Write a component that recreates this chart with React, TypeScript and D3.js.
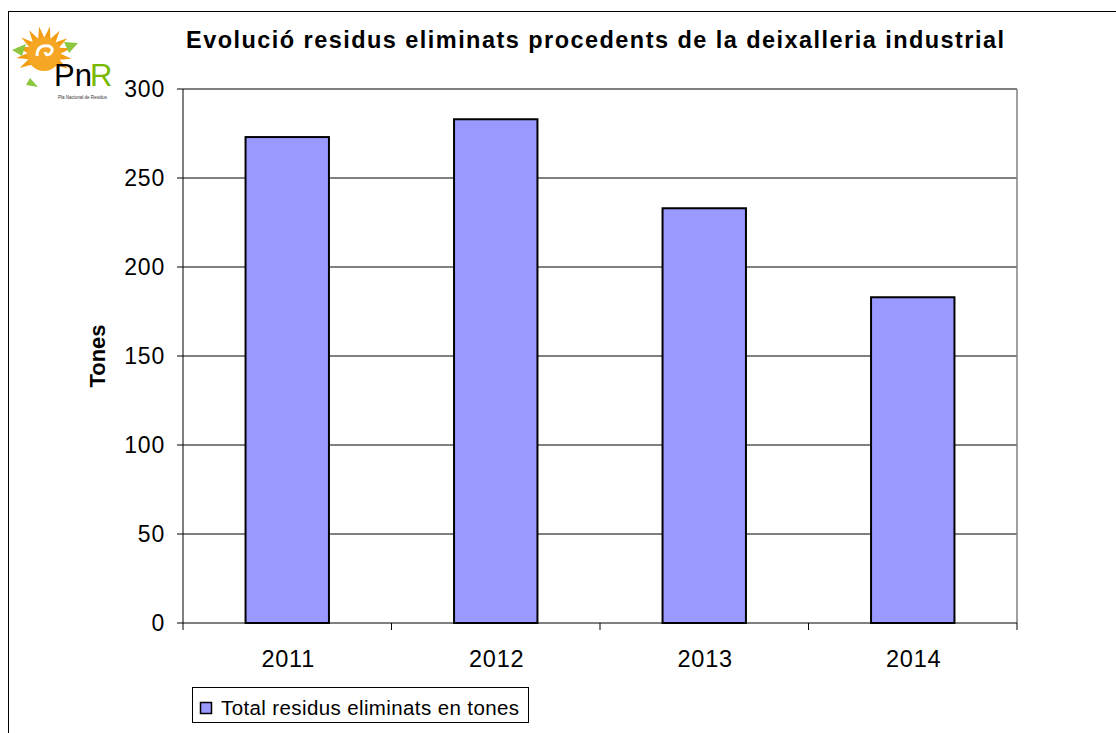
import React from "react";
import * as d3 from "d3";

const categories = ["2011", "2012", "2013", "2014"];
const values = [273, 283, 233, 183];
const yTicks = [0, 50, 100, 150, 200, 250, 300];
const title = "Evolució residus eliminats procedents de la deixalleria industrial";
const yTitle = "Tones";
const legendLabel = "Total residus eliminats en tones";

export default function App() {
  const W = 1116, H = 733;
  const left = 183, right = 1017, top = 89, bottom = 623;
  const x = d3.scaleBand<string>().domain(categories).range([left, right]).paddingInner(0.6).paddingOuter(0.3);
  const xb = d3.scaleBand<string>().domain(categories).range([left, right]);
  const y = d3.scaleLinear().domain([0, 300]).range([bottom, top]);
  const font = "Arial, 'Liberation Sans', sans-serif";

  const cx = 44, cy = 54;
  const rays = d3.range(12).map((i) => {
    const a = (-210 + i * 22) * Math.PI / 180;
    const p = (r: number, da: number) => [cx + r * Math.cos(a + da), cy + r * Math.sin(a + da)];
    const [x1, y1] = p(16, -0.2), [x2, y2] = p(28, 0), [x3, y3] = p(16, 0.2);
    return `M${x1},${y1}L${x2},${y2}L${x3},${y3}Z`;
  });

  return (
    <div style={{ position: "fixed", left: 0, top: 0, width: W, height: H, overflow: "hidden", background: "#fff" }}>
      <svg width={W} height={H} style={{ display: "block" }}>
        <rect x={0} y={0} width={W} height={H} fill="#fff" />
        <rect x={8.5} y={11.5} width={W + 20} height={H + 20} fill="#fff" stroke="#000" strokeWidth={1} />
        {/* logo */}
        <g>
          {rays.map((d, i) => <path key={i} d={d} fill="#f39c12" />)}
          <circle cx={cx} cy={cy} r={17} fill="#f5a623" />
          <path d={`M${cx - 7},${cy + 2} q0,-12 12,-10 q6,3 1,8 q-4,2 -5,-2`} fill="none" stroke="#fff" strokeWidth={3} />
          <path d="M12,50 l14,-6 l-4,12 z" fill="#8dc63f" />
          <path d="M64,42 l14,1 l-9,10 z" fill="#8dc63f" />
          <path d="M30,78 l8,9 l-12,-2 z" fill="#8dc63f" />
          <text x={54} y={86} fontFamily="'Liberation Sans Narrow', Arial, sans-serif" fontSize={31} fill="#000">Pn</text>
          <text x={90} y={86} fontFamily="'Liberation Sans Narrow', Arial, sans-serif" fontSize={31} fill="#7ab800">R</text>
          <text x={58} y={99} fontFamily={font} fontSize={4.5} fill="#333">Pla Nacional de Residus</text>
        </g>
        <text x={186} y={48} textLength={818} lengthAdjust="spacing" fontFamily={font} fontWeight="bold" fontSize={23.5} fill="#000">{title}</text>
        {/* plot area */}
        {yTicks.filter((t) => t > 0).map((t) => (
          <line key={t} x1={left} x2={right} y1={y(t)} y2={y(t)} stroke="#000" strokeWidth={1} />
        ))}
        <line x1={right} x2={right} y1={top} y2={bottom} stroke="#808080" strokeWidth={1.5} />
        {categories.map((c, i) => (
          <rect key={c} x={x(c)} y={y(values[i])} width={x.bandwidth()} height={bottom - y(values[i])} fill="#9999ff" stroke="#000" strokeWidth={2} />
        ))}
        {/* axes */}
        <line x1={left} x2={left} y1={top} y2={bottom} stroke="#000" strokeWidth={1} />
        <line x1={left} x2={right} y1={bottom} y2={bottom} stroke="#000" strokeWidth={1} />
        {yTicks.map((t) => (
          <g key={t}>
            <line x1={left - 6} x2={left} y1={y(t)} y2={y(t)} stroke="#000" />
            <text x={165} y={y(t) + 8} textAnchor="end" fontFamily={font} fontSize={23} letterSpacing={0.8} fill="#000">{t}</text>
          </g>
        ))}
        {[...categories.map((c) => xb(c) as number), right].map((v, i) => (
          <line key={i} x1={v} x2={v} y1={bottom} y2={bottom + 7} stroke="#000" />
        ))}
        {categories.map((c) => (
          <text key={c} x={(xb(c) as number) + xb.bandwidth() / 2 + 1} y={667} textAnchor="middle" fontFamily={font} fontSize={23.5} letterSpacing={0.8} fill="#000">{c}</text>
        ))}
        <text transform={`translate(105,${(top + bottom) / 2}) rotate(-90)`} textAnchor="middle" fontFamily={font} fontWeight="bold" fontSize={22} fill="#000">{yTitle}</text>
        {/* legend */}
        <rect x={192.5} y={687.5} width={336} height={35} fill="#fff" stroke="#000" />
        <rect x={200.5} y={702.5} width={11} height={11} fill="#9999ff" stroke="#000" strokeWidth={1.5} />
        <text x={221} y={715} textLength={298} lengthAdjust="spacing" fontFamily={font} fontSize={20.5} fill="#000">{legendLabel}</text>
      </svg>
    </div>
  );
}
